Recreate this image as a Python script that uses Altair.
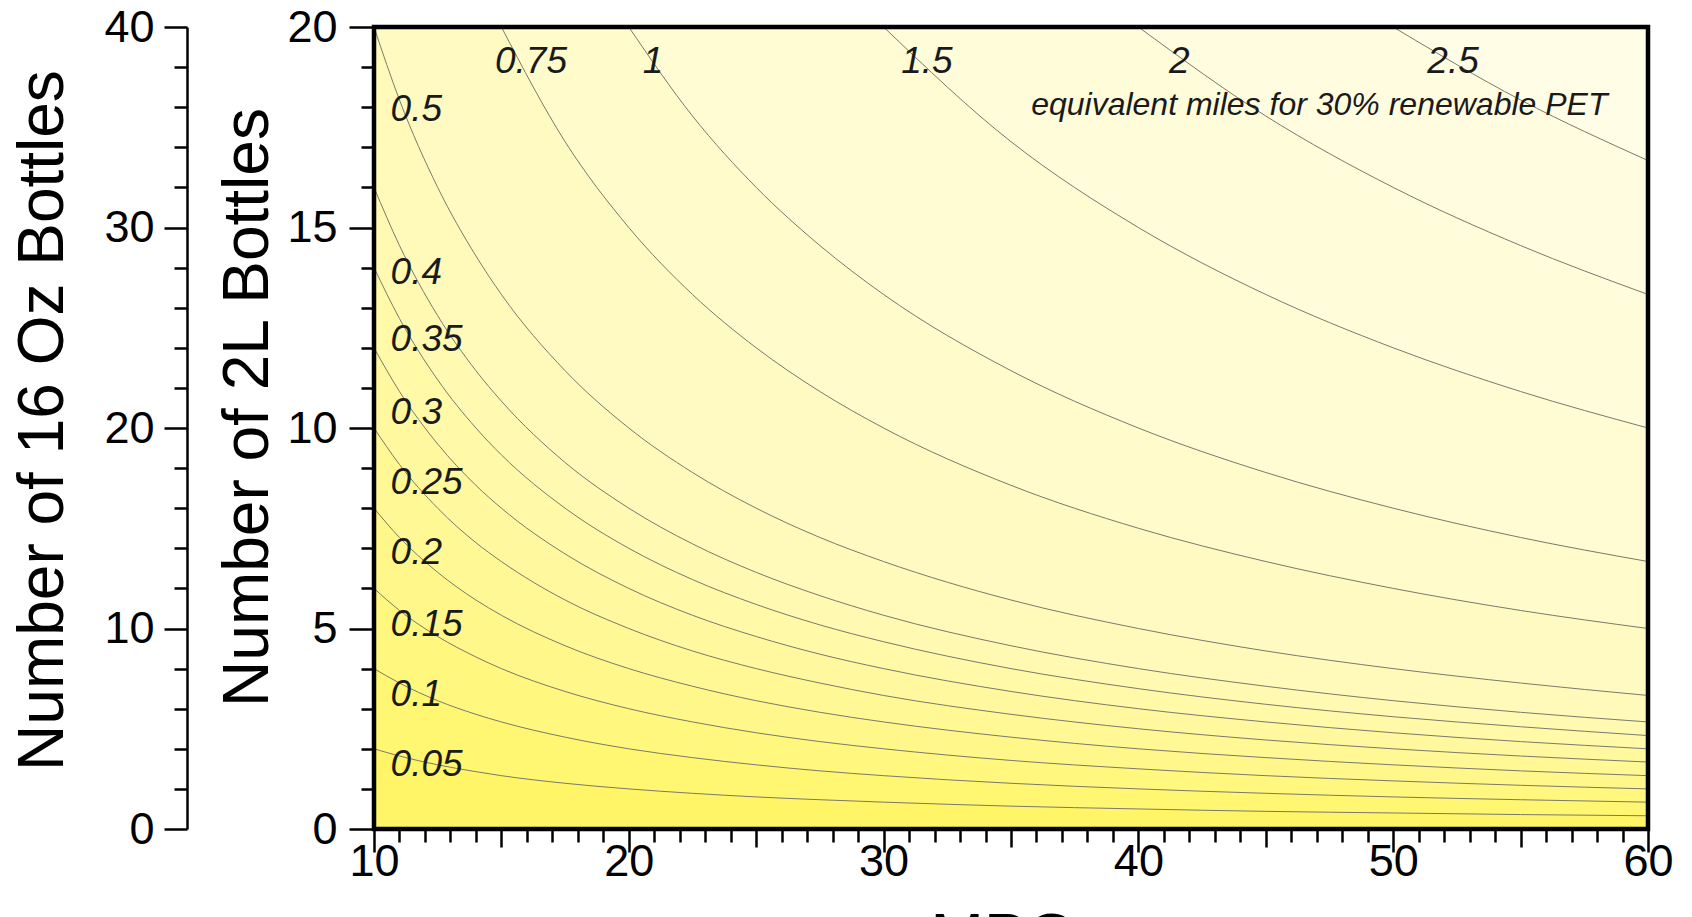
import altair as alt
import pandas as pd

# ---------------- data ----------------
mpg_grid = [10, 11, 12.5, 14, 15, 17.5, 20, 22.5, 25, 27.5, 30, 35, 40, 45, 50, 55, 60]

# number of 2L bottles on each contour at the MPG values above (None = above the plot)
c_005 = [2.0, 1.82, 1.6, 1.43, 1.33, 1.14, 1.0, 0.89, 0.8, 0.73, 0.67, 0.57, 0.5, 0.44, 0.4, 0.36, 0.33]
c_010 = [4.0, 3.64, 3.2, 2.86, 2.67, 2.29, 2.0, 1.78, 1.6, 1.45, 1.33, 1.14, 1.0, 0.89, 0.8, 0.73, 0.67]
c_015 = [6.0, 5.45, 4.8, 4.29, 4.0, 3.43, 3.0, 2.67, 2.4, 2.18, 2.0, 1.71, 1.5, 1.33, 1.2, 1.09, 1.0]
c_020 = [8.0, 7.27, 6.4, 5.71, 5.33, 4.57, 4.0, 3.56, 3.2, 2.91, 2.67, 2.29, 2.0, 1.78, 1.6, 1.45, 1.33]
c_025 = [10.0, 9.09, 8.0, 7.14, 6.67, 5.71, 5.0, 4.44, 4.0, 3.64, 3.33, 2.86, 2.5, 2.22, 2.0, 1.82, 1.67]
c_030 = [12.0, 10.91, 9.6, 8.57, 8.0, 6.86, 6.0, 5.33, 4.8, 4.36, 4.0, 3.43, 3.0, 2.67, 2.4, 2.18, 2.0]
c_035 = [14.0, 12.73, 11.2, 10.0, 9.33, 8.0, 7.0, 6.22, 5.6, 5.09, 4.67, 4.0, 3.5, 3.11, 2.8, 2.55, 2.33]
c_040 = [16.0, 14.55, 12.8, 11.43, 10.67, 9.14, 8.0, 7.11, 6.4, 5.82, 5.33, 4.57, 4.0, 3.56, 3.2, 2.91, 2.67]
c_050 = [20.0, 18.18, 16.0, 14.29, 13.33, 11.43, 10.0, 8.89, 8.0, 7.27, 6.67, 5.71, 5.0, 4.44, 4.0, 3.64, 3.33]
c_075 = [None, None, None, None, 20.0, 17.14, 15.0, 13.33, 12.0, 10.91, 10.0, 8.57, 7.5, 6.67, 6.0, 5.45, 5.0]
c_100 = [None, None, None, None, None, None, 20.0, 17.78, 16.0, 14.55, 13.33, 11.43, 10.0, 8.89, 8.0, 7.27, 6.67]
c_150 = [None, None, None, None, None, None, None, None, None, None, 20.0, 17.14, 15.0, 13.33, 12.0, 10.91, 10.0]
c_200 = [None, None, None, None, None, None, None, None, None, None, None, None, 20.0, 17.78, 16.0, 14.55, 13.33]
c_250 = [None, None, None, None, None, None, None, None, None, None, None, None, None, None, 20.0, 18.18, 16.67]

levels = [0.05, 0.1, 0.15, 0.2, 0.25, 0.3, 0.35, 0.4, 0.5, 0.75, 1, 1.5, 2, 2.5]
contours = [c_005, c_010, c_015, c_020, c_025, c_030, c_035, c_040, c_050,
            c_075, c_100, c_150, c_200, c_250]
n_top = 20  # top of the 2L-bottle axis

# fill colour of the region above each contour level (below 0.05 = base colour)
base_color = "#FFF566"
above_colors = ["#FFF672", "#FFF77E", "#FFF789", "#FFF894", "#FFF89E", "#FFF9A8",
                "#FFF9B1", "#FFFAB9", "#FFFAC2", "#FFFBCB", "#FFFBD3", "#FFFCDA",
                "#FFFCE0", "#FFFDE6"]

# contour labels
left_labels = ["0.5", "0.4", "0.35", "0.3", "0.25", "0.2", "0.15", "0.1", "0.05"]
left_label_n = [17.93, 13.87, 12.2, 10.37, 8.63, 6.88, 5.09, 3.34, 1.6]
left_label_mpg = 10.65
top_labels = ["0.75", "1", "1.5", "2", "2.5"]
top_label_mpg = [16.16, 20.95, 31.7, 41.6, 52.35]
top_label_n = 19.13
note_text = "equivalent miles for 30% renewable PET"
note_mpg = 47.1
note_n = 18.05

oz_range = [0, 40]

# ---------------- build tables ----------------
rows = []
for lev, col in zip(levels, contours):
    for m, n in zip(mpg_grid, col):
        if n is not None:
            rows.append({"mpg": m, "n": n, "top": n_top, "level": lev})
df = pd.DataFrame(rows)

df_left = pd.DataFrame([{"mpg": left_label_mpg, "n": n, "t": t} for t, n in zip(left_labels, left_label_n)])
df_top = pd.DataFrame([{"mpg": m, "n": top_label_n, "t": t} for t, m in zip(top_labels, top_label_mpg)])
df_note = pd.DataFrame([{"mpg": note_mpg, "n": note_n, "t": note_text}])
df_oz = pd.DataFrame({"oz": oz_range})
df_frame = pd.DataFrame({"k": [0]})

FONT = "Liberation Sans"

x_axis = alt.Axis(
    values=list(range(10, 61)),
    labelExpr="datum.value % 10 === 0 ? datum.label : ''",
    tickSize={"condition": [{"test": "datum.value % 10 === 0", "value": 23},
                            {"test": "datum.value % 5 === 0", "value": 18}],
              "value": 13},
    tickWidth=2.5, tickColor="black", domain=False, grid=False,
    labelFont=FONT, labelFontSize=45, labelColor="black", labelPadding=-13,
    labelOverlap=False, labelFlush=False, labelBound=False,
    title="MPG", titleFont=FONT, titleFontSize=64, titleFontWeight="normal",
    titleColor="black", titleX=629, titleY=129, titleBaseline="alphabetic",
    titleAlign="center",
)
y_axis = alt.Axis(
    values=list(range(0, 21)),
    labelExpr="datum.value % 5 === 0 ? datum.label : ''",
    tickSize={"condition": {"test": "datum.value % 5 === 0", "value": 25}, "value": 13},
    tickWidth=2.5, tickColor="black", domain=False, grid=False,
    labelFont=FONT, labelFontSize=45, labelColor="black", labelPadding=12,
    labelOverlap=False, labelFlush=False, labelBound=False,
    title="Number of 2L Bottles", titleFont=FONT, titleFontSize=64,
    titleFontWeight="normal", titleColor="black", titleAngle=270,
    titleX=-107, titleY=380, titleBaseline="alphabetic", titleAlign="center",
)
oz_axis = alt.Axis(
    orient="left", offset=187,
    values=list(range(0, 41, 2)),
    labelExpr="datum.value % 10 === 0 ? datum.label : ''",
    tickSize={"condition": {"test": "datum.value % 10 === 0", "value": 23}, "value": 13},
    tickWidth=2.5, tickColor="black", domain=True, domainColor="black", domainWidth=2.5,
    grid=False, labelFont=FONT, labelFontSize=45, labelColor="black", labelPadding=10,
    labelOverlap=False, labelFlush=False, labelBound=False,
    title="Number of 16 Oz Bottles", titleFont=FONT, titleFontSize=64,
    titleFontWeight="normal", titleColor="black", titleAngle=270,
    titleX=-125, titleY=393, titleBaseline="alphabetic", titleAlign="center",
)

xs = alt.Scale(domain=[10, 60], nice=False, zero=False)
ys = alt.Scale(domain=[0, n_top], nice=False, zero=False)


def X():
    return alt.X("mpg:Q", scale=xs, axis=x_axis)


def Y():
    return alt.Y("n:Q", scale=ys, axis=y_axis)


base = alt.Chart(df)
layers = []
for lev, colr in zip(levels, above_colors):
    layers.append(
        base.transform_filter(alt.datum.level == lev)
        .mark_area(interpolate="monotone", color=colr, clip=True)
        .encode(x=X(), y=Y(), y2="top:Q")
    )

lines = base.mark_line(interpolate="monotone", color="#7a7a6a", strokeWidth=1, clip=True).encode(
    x=X(), y=Y(), detail="level:N"
)
layers.append(lines)

txt_left = alt.Chart(df_left).mark_text(
    align="left", baseline="middle", font=FONT, fontSize=37, fontStyle="italic", color="#1a1a1a"
).encode(x=X(), y=Y(), text="t:N")
txt_top = alt.Chart(df_top).mark_text(
    align="center", baseline="middle", font=FONT, fontSize=37, fontStyle="italic", color="#1a1a1a"
).encode(x=X(), y=Y(), text="t:N")
txt_note = alt.Chart(df_note).mark_text(
    align="center", baseline="middle", font=FONT, fontSize=32, fontStyle="italic", color="#1a1a1a"
).encode(x=X(), y=Y(), text="t:N")
layers += [txt_left, txt_top, txt_note]

# plot frame drawn above the contour fills
frame = alt.Chart(df_frame).mark_rect(fillOpacity=0, stroke="black", strokeWidth=4.5).encode(
    x=alt.value(0), x2=alt.value("width"), y=alt.value(0), y2=alt.value("height")
)
layers.append(frame)

inner = alt.layer(*layers)

oz_layer = alt.Chart(df_oz).mark_point(opacity=0).encode(
    y=alt.Y("oz:Q", scale=alt.Scale(domain=oz_range, nice=False, zero=False), axis=oz_axis)
)

chart = (
    alt.layer(inner, oz_layer)
    .resolve_scale(y="independent")
    .properties(
        width=1274, height=802,
        autosize=alt.AutoSizeParams(type="none"),
        padding={"left": 366, "top": 19, "right": 30, "bottom": 88},
    )
    .configure_view(stroke="black", strokeWidth=4, fill=base_color)
)

chart.save("out.html", embed_options={"renderer": "svg", "actions": False})
